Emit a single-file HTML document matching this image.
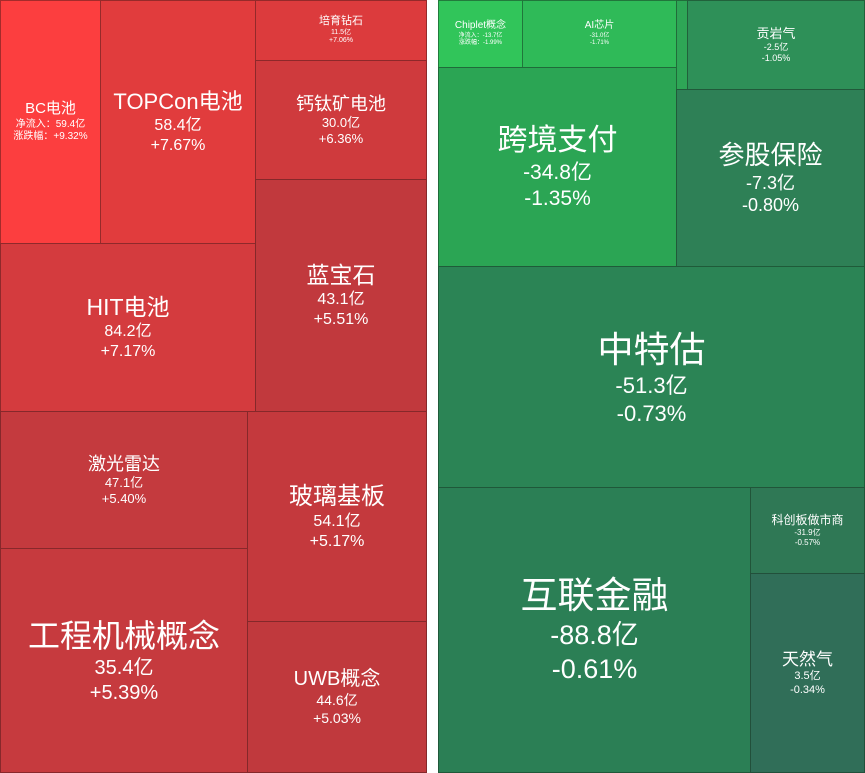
<!DOCTYPE html><html><head><meta charset="utf-8"><style>
body{margin:0;width:865px;height:773px;background:#fff;position:relative;overflow:hidden;font-family:"Liberation Sans","Noto Sans CJK SC",sans-serif;color:#fff}
.b{position:absolute;box-sizing:border-box;border:1px solid rgba(60,20,20,.45);display:flex;flex-direction:column;align-items:center;justify-content:center;text-align:center;line-height:1.25}
.g{border-color:rgba(20,50,30,.5)}
</style></head><body>
<div class="b" style="left:0;top:0;width:101px;height:244px;background:#fc3e3f"><div style="font-size:15px">BC电池</div><div style="font-size:10px">净流入：59.4亿<br>涨跌幅：+9.32%</div></div>
<div class="b" style="left:100px;top:0;width:156px;height:244px;background:#e13c3d"><div style="font-size:22px">TOPCon电池</div><div style="font-size:16px">58.4亿<br>+7.67%</div></div>
<div class="b" style="left:255px;top:0;width:172px;height:61px;background:#dc3b3d"><div style="font-size:11px">培育钻石</div><div style="font-size:7px">11.5亿<br>+7.06%</div></div>
<div class="b" style="left:255px;top:60px;width:172px;height:120px;background:#cf3a3d"><div style="font-size:18px">钙钛矿电池</div><div style="font-size:13px">30.0亿<br>+6.36%</div></div>
<div class="b" style="left:0;top:243px;width:256px;height:169px;background:#d43b3e"><div style="font-size:23px">HIT电池</div><div style="font-size:16px">84.2亿<br>+7.17%</div></div>
<div class="b" style="left:255px;top:179px;width:172px;height:233px;background:#c1393d"><div style="font-size:23px">蓝宝石</div><div style="font-size:16px">43.1亿<br>+5.51%</div></div>
<div class="b" style="left:0;top:411px;width:248px;height:138px;background:#c43a3e"><div style="font-size:18px">激光雷达</div><div style="font-size:13px">47.1亿<br>+5.40%</div></div>
<div class="b" style="left:247px;top:411px;width:180px;height:211px;background:#c4393d"><div style="font-size:24px">玻璃基板</div><div style="font-size:16px">54.1亿<br>+5.17%</div></div>
<div class="b" style="left:0;top:548px;width:248px;height:225px;background:#c63a3e"><div style="font-size:32px">工程机械概念</div><div style="font-size:20px">35.4亿<br>+5.39%</div></div>
<div class="b" style="left:247px;top:621px;width:180px;height:152px;background:#c0393d"><div style="font-size:20px">UWB概念</div><div style="font-size:14px">44.6亿<br>+5.03%</div></div>

<div class="b g" style="left:438px;top:0;width:85px;height:68px;background:#31c55a"><div style="font-size:10px">Chiplet概念</div><div style="font-size:6px">净流入：-13.7亿<br>涨跌幅：-1.99%</div></div>
<div class="b g" style="left:522px;top:0;width:155px;height:68px;background:#2fba58"><div style="font-size:10px">AI芯片</div><div style="font-size:6px">-31.0亿<br>-1.71%</div></div>
<div class="b g" style="left:676px;top:0;width:12px;height:90px;background:#2ea656"></div>
<div class="b g" style="left:687px;top:0;width:178px;height:90px;background:#2e9058"><div style="font-size:13px">贡岩气</div><div style="font-size:9px">-2.5亿<br>-1.05%</div></div>
<div class="b g" style="left:438px;top:67px;width:239px;height:200px;background:#2ba554"><div style="font-size:30px">跨境支付</div><div style="font-size:21px">-34.8亿<br>-1.35%</div></div>
<div class="b g" style="left:676px;top:89px;width:189px;height:178px;background:#2e8056"><div style="font-size:26px">参股保险</div><div style="font-size:18px">-7.3亿<br>-0.80%</div></div>
<div class="b g" style="left:438px;top:266px;width:427px;height:222px;background:#2b8455"><div style="font-size:36px">中特估</div><div style="font-size:22px">-51.3亿<br>-0.73%</div></div>
<div class="b g" style="left:438px;top:487px;width:313px;height:286px;background:#2b7f55"><div style="font-size:37px">互联金融</div><div style="font-size:27px">-88.8亿<br>-0.61%</div></div>
<div class="b g" style="left:750px;top:487px;width:115px;height:87px;background:#2f7855"><div style="font-size:12px">科创板做市商</div><div style="font-size:8px">-31.9亿<br>-0.57%</div></div>
<div class="b g" style="left:750px;top:573px;width:115px;height:200px;background:#306e58"><div style="font-size:17px">天然气</div><div style="font-size:11px">3.5亿<br>-0.34%</div></div>
</body></html>
